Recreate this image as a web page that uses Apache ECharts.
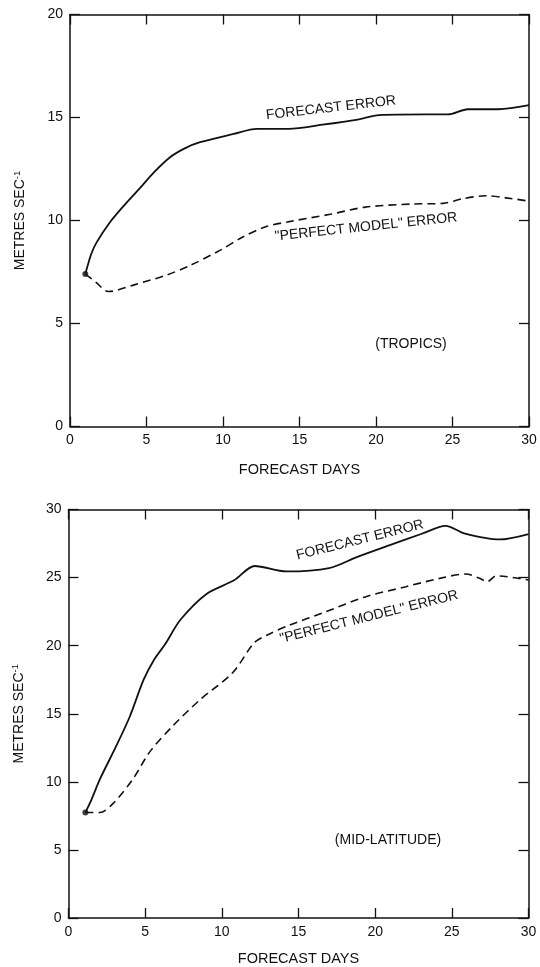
<!DOCTYPE html>
<html>
<head>
<meta charset="utf-8">
<script src="https://cdn.jsdelivr.net/npm/echarts@6/dist/echarts.min.js"></script>
<style>
html,body{margin:0;padding:0;background:#fff;}
#chart{width:540px;height:967px;}
</style>
</head>
<body>
<div id="chart"></div>
<script>
// ---- data (forecast day, metres per second) ----
const xTicks = [0, 5, 10, 15, 20, 25, 30];
const tropicsYTicks = [0, 5, 10, 15, 20];
const midYTicks = [0, 5, 10, 15, 20, 25, 30];

const tropicsForecastDays = [1, 1.4, 1.75, 2.6, 3.5, 4.6, 5.5, 6.5, 7.5, 8.5, 10.7, 12.2, 14.3, 16.5, 18.8, 20.2, 23.3, 24.7, 26, 28, 30];
const tropicsForecastErr  = [7.4, 8.4, 8.95, 9.9, 10.7, 11.6, 12.35, 13.05, 13.5, 13.8, 14.2, 14.45, 14.45, 14.65, 14.9, 15.12, 15.15, 15.15, 15.4, 15.4, 15.6];

const tropicsPerfectDays = [1, 1.7, 2.5, 4.3, 6.3, 7.8, 9.8, 11.3, 12.8, 14.5, 17, 19.3, 22.4, 24.4, 25.6, 27.2, 28.5, 30];
const tropicsPerfectErr  = [7.4, 7.0, 6.55, 6.9, 7.35, 7.8, 8.55, 9.2, 9.7, 9.97, 10.3, 10.65, 10.8, 10.83, 11.05, 11.2, 11.1, 10.94];

const midForecastDays = [1.1, 1.5, 2.05, 3.1, 4.0, 4.9, 5.6, 6.3, 7.3, 9.0, 10.8, 12.15, 14.2, 17.0, 18.8, 21.0, 23.0, 24.6, 25.8, 28.1, 30];
const midForecastErr  = [7.75, 8.7, 10.2, 12.6, 14.8, 17.5, 19.0, 20.1, 21.9, 23.8, 24.8, 25.85, 25.45, 25.7, 26.5, 27.4, 28.2, 28.8, 28.25, 27.8, 28.2];

const midPerfectDays = [1.1, 2.05, 2.9, 4.2, 5.3, 6.8, 8.6, 10.7, 12.1, 12.9, 14.4, 16.8, 19.4, 22.0, 24.2, 25.9, 26.8, 27.3, 27.9, 30];
const midPerfectErr  = [7.75, 7.75, 8.4, 10.2, 12.2, 14.1, 16.05, 18.0, 20.2, 20.75, 21.5, 22.5, 23.6, 24.33, 24.94, 25.26, 24.95, 24.7, 25.13, 24.82];

const startDots = { tropics: [1, 7.4], mid: [1.1, 7.75] };

const labels = {
  yName: 'METRES SEC',
  xName: 'FORECAST DAYS',
  forecast: 'FORECAST ERROR',
  perfect: '"PERFECT MODEL" ERROR',
  tropics: '(TROPICS)',
  mid: '(MID-LATITUDE)'
};

// ---- build ----
const zip = (a, b) => a.map((v, i) => [v, b[i]]);
const FONT = '"Liberation Sans", Arial, Helvetica, sans-serif';
const INK = '#111';
const axisLineStyle = { show: true, onZero: false, lineStyle: { color: INK, width: 1.5 } };
const tickStyle = { show: true, inside: true, length: 10, lineStyle: { color: INK, width: 1.3 } };

function xAxes(gridIndex) {
  return [
    {
      gridIndex, type: 'value', position: 'bottom', min: xTicks[0], max: xTicks[xTicks.length - 1], interval: 5,
      axisLine: axisLineStyle, axisTick: tickStyle,
      axisLabel: { color: INK, fontSize: 14, fontFamily: FONT, margin: 7 },
      splitLine: { show: false },
      name: labels.xName, nameLocation: 'middle', nameGap: gridIndex === 0 ? 36 : 33,
      nameTextStyle: { color: INK, fontSize: 14.5, fontFamily: FONT }
    },
    {
      gridIndex, type: 'value', position: 'top', min: xTicks[0], max: xTicks[xTicks.length - 1], interval: 5,
      axisLine: axisLineStyle, axisTick: tickStyle,
      axisLabel: { show: false }, splitLine: { show: false }
    }
  ];
}
function yAxes(gridIndex, ticks) {
  const max = ticks[ticks.length - 1];
  return [
    {
      gridIndex, type: 'value', position: 'left', min: 0, max, interval: 5,
      axisLine: axisLineStyle, axisTick: tickStyle,
      axisLabel: { color: INK, fontSize: 14, fontFamily: FONT, margin: 7 },
      splitLine: { show: false },
      name: labels.yName + '{sup|-1}', nameLocation: 'middle', nameRotate: 90, nameGap: 41,
      nameTextStyle: {
        color: INK, fontSize: 14, fontFamily: FONT,
        rich: { sup: { fontSize: 9.5, fontFamily: FONT, color: INK, padding: [0, 0, 7, 0] } }
      }
    },
    {
      gridIndex, type: 'value', position: 'right', min: 0, max, interval: 5,
      axisLine: axisLineStyle, axisTick: tickStyle,
      axisLabel: { show: false }, splitLine: { show: false }
    }
  ];
}

function line(xi, yi, data, dashed) {
  return {
    type: 'line', xAxisIndex: xi, yAxisIndex: yi, data, smooth: 0.3, symbol: 'none',
    lineStyle: { color: INK, width: dashed ? 1.6 : 1.8, type: dashed ? [8, 5] : 'solid' },
    silent: true, animation: false
  };
}
function dot(xi, yi, p) {
  return { type: 'scatter', xAxisIndex: xi, yAxisIndex: yi, data: [p], symbol: 'circle', symbolSize: 6,
    itemStyle: { color: INK }, silent: true, animation: false, z: 5 };
}
function txt(x, y, text, deg, size) {
  return { type: 'text', x, y, rotation: deg * Math.PI / 180,
    style: { text, fill: INK, font: `${size || 14}px ${FONT}`, align: 'center', verticalAlign: 'middle' } };
}

const option = {
  backgroundColor: '#fff',
  animation: false,
  grid: [
    { left: 70, right: 11, top: 14.5, height: 412 },
    { left: 68.5, right: 11.5, top: 509.5, height: 410.5 }
  ],
  xAxis: [...xAxes(0), ...xAxes(1)],
  yAxis: [...yAxes(0, tropicsYTicks), ...yAxes(1, midYTicks)],
  series: [
    line(0, 0, zip(tropicsForecastDays, tropicsForecastErr), false),
    line(0, 0, zip(tropicsPerfectDays, tropicsPerfectErr), true),
    dot(0, 0, startDots.tropics),
    line(2, 2, zip(midForecastDays, midForecastErr), false),
    line(2, 2, zip(midPerfectDays, midPerfectErr), true),
    dot(2, 2, startDots.mid)
  ],
  graphic: [
    txt(331, 108, labels.forecast, 6.5),
    txt(366, 227, labels.perfect, 6),
    txt(411, 344, labels.tropics, 0),
    txt(360, 540, labels.forecast, 14),
    txt(369, 617, labels.perfect, 14),
    txt(388, 840, labels.mid, 0)
  ]
};

const chart = echarts.init(document.getElementById('chart'), null, { renderer: 'canvas' });
chart.setOption(option);
</script>
</body>
</html>
